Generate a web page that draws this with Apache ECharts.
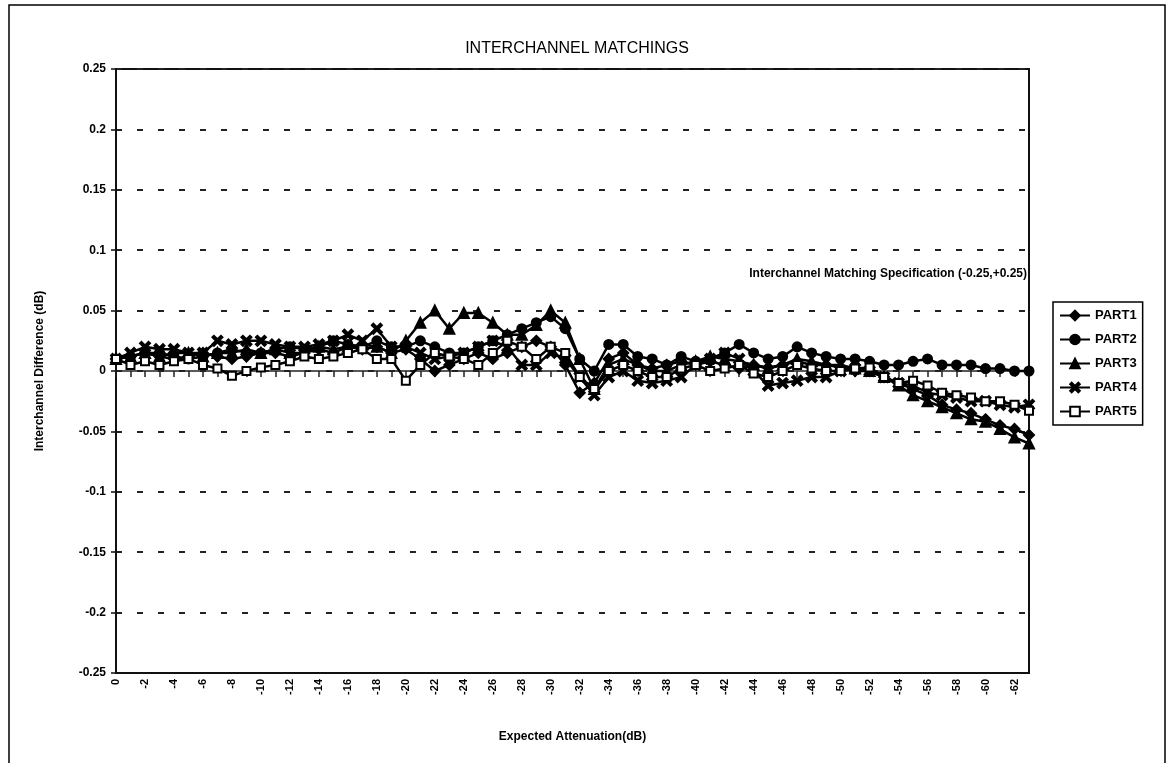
<!DOCTYPE html>
<html lang="en">
<head>
    <meta charset="UTF-8">
    <title>Interchannel Matchings</title>
    <script src="https://cdn.jsdelivr.net/npm/echarts@6/dist/echarts.min.js"></script>
    <style>
        html, body { margin: 0; padding: 0; background: #fff; }
    </style>
</head>
<body>

<div id="main" style="width:1171px; height:763px;"></div>

<script type="text/javascript">
    // expected attenuation, 0 .. -63 dB
    var attenuation = [];
    for (var k = 0; k <= 63; k++) {
        attenuation.push(k === 0 ? '0' : String(-k));
    }

    var part1 = [0.01, 0.012, 0.015, 0.012, 0.01, 0.012, 0.015, 0.012, 0.01, 0.012,
        0.015, 0.015, 0.012, 0.015, 0.018, 0.015, 0.02, 0.018, 0.02, 0.015,
        0.018, 0.01, 0, 0.005, 0.01, 0.015, 0.01, 0.015, 0.02, 0.025,
        0.02, 0.005, -0.018, -0.01, 0.01, 0.015, 0.005, 0.002, 0.005, 0.008,
        0.005, 0.008, 0.005, 0.002, 0.005, 0.003, 0.005, 0.008, 0.005, 0.005,
        0.003, 0, 0, -0.005, -0.01, -0.015, -0.02, -0.028, -0.032, -0.035,
        -0.04, -0.045, -0.048, -0.053];

    var part2 = [0.01, 0.012, 0.015, 0.015, 0.012, 0.01, 0.012, 0.015, 0.018, 0.015,
        0.015, 0.018, 0.02, 0.018, 0.02, 0.025, 0.022, 0.02, 0.025, 0.02,
        0.02, 0.025, 0.02, 0.015, 0.015, 0.02, 0.025, 0.03, 0.035, 0.04,
        0.045, 0.035, 0.01, 0, 0.022, 0.022, 0.012, 0.01, 0.005, 0.012,
        0.008, 0.01, 0.015, 0.022, 0.015, 0.01, 0.012, 0.02, 0.015, 0.012,
        0.01, 0.01, 0.008, 0.005, 0.005, 0.008, 0.01, 0.005, 0.005, 0.005,
        0.002, 0.002, 0, 0];

    var part3 = [0.01, 0.012, 0.015, 0.012, 0.015, 0.015, 0.012, 0.015, 0.015, 0.018,
        0.015, 0.018, 0.015, 0.015, 0.02, 0.018, 0.02, 0.022, 0.02, 0.015,
        0.025, 0.04, 0.05, 0.035, 0.048, 0.048, 0.04, 0.03, 0.03, 0.038,
        0.05, 0.04, 0.01, -0.015, 0.005, 0.01, 0.005, 0, 0, 0.005,
        0.008, 0.012, 0.01, 0.008, 0.005, 0.002, 0.005, 0.01, 0.008, 0.005,
        0.005, 0.002, 0, -0.005, -0.012, -0.02, -0.025, -0.03, -0.035, -0.04,
        -0.042, -0.048, -0.055, -0.06];

    var part4 = [0.01, 0.015, 0.02, 0.018, 0.018, 0.015, 0.015, 0.025, 0.022, 0.025,
        0.025, 0.022, 0.02, 0.02, 0.022, 0.025, 0.03, 0.025, 0.035, 0.02,
        0.02, 0.015, 0.01, 0.012, 0.015, 0.02, 0.025, 0.02, 0.005, 0.005,
        0.015, 0.01, -0.005, -0.02, -0.005, 0, -0.008, -0.01, -0.008, -0.005,
        0.005, 0.01, 0.015, 0.01, 0, -0.012, -0.01, -0.008, -0.005, -0.005,
        0, 0.002, 0, -0.005, -0.01, -0.012, -0.018, -0.02, -0.022, -0.025,
        -0.025, -0.028, -0.03, -0.028];

    var part5 = [0.01, 0.005, 0.008, 0.005, 0.008, 0.01, 0.005, 0.002, -0.004, 0,
        0.003, 0.005, 0.008, 0.012, 0.01, 0.012, 0.015, 0.018, 0.01, 0.01,
        -0.008, 0.005, 0.015, 0.012, 0.01, 0.005, 0.015, 0.025, 0.02, 0.01,
        0.02, 0.015, -0.005, -0.015, 0, 0.005, 0, -0.005, -0.005, 0.002,
        0.005, 0, 0.002, 0.005, -0.002, -0.005, 0, 0.005, 0.002, 0,
        0, 0.002, 0.003, -0.005, -0.01, -0.008, -0.012, -0.018, -0.02, -0.022,
        -0.025, -0.025, -0.028, -0.033];

    var partNames = ['PART1', 'PART2', 'PART3', 'PART4', 'PART5'];
    var partData = [part1, part2, part3, part4, part5];
    var partSymbols = [
        'diamond',
        'circle',
        'triangle',
        'path://M0,1.5L1.5,0L5,3.5L8.5,0L10,1.5L6.5,5L10,8.5L8.5,10L5,6.5L1.5,10L0,8.5L3.5,5Z',
        'emptyRect'
    ];
    var partSizes = [10, 9, 10, 10, 8];

    var font = 'Liberation Sans, Arial, sans-serif';

    var series = partNames.map(function (name, idx) {
        return {
            name: name,
            type: 'line',
            xAxisIndex: 0,
            data: partData[idx],
            symbol: partSymbols[idx],
            symbolSize: partSizes[idx],
            showAllSymbol: true,
            lineStyle: { color: '#000', width: 2.5 },
            itemStyle: { color: '#000', borderColor: '#000', borderWidth: 2 }
        };
    });

    var chart = echarts.init(document.getElementById('main'));
    chart.setOption({
        animation: false,
        backgroundColor: '#fff',
        title: {
            text: 'INTERCHANNEL MATCHINGS',
            left: 572,
            top: 36,
            textAlign: 'center',
            textStyle: { fontFamily: font, fontSize: 16, fontWeight: 'normal', color: '#000' }
        },
        legend: {
            orient: 'vertical',
            left: 1053,
            top: 302,
            padding: [7, 6, 7, 6],
            itemGap: 11,
            itemWidth: 30,
            itemHeight: 12,
            borderColor: '#000',
            borderWidth: 1.5,
            data: partNames,
            textStyle: { fontFamily: font, fontSize: 13, fontWeight: 'bold', color: '#000' }
        },
        grid: {
            left: 116,
            right: 142,
            top: 69,
            bottom: 90,
            show: true,
            borderColor: '#111',
            borderWidth: 2,
            backgroundColor: 'transparent'
        },
        xAxis: [{
            type: 'category',
            data: attenuation,
            boundaryGap: false,
            position: 'bottom',
            name: 'Expected Attenuation(dB)',
            nameLocation: 'middle',
            nameGap: 58,
            nameTextStyle: { fontFamily: font, fontSize: 12, fontWeight: 'bold', color: '#000' },
            axisLine: { onZero: false, lineStyle: { color: '#111', width: 2 } },
            axisTick: { show: false },
            axisLabel: {
                interval: 1,
                rotate: 90,
                margin: 6,
                fontFamily: font,
                fontSize: 11,
                fontWeight: 'bold',
                color: '#000'
            },
            splitLine: { show: false }
        }, {
            // zero crossing line with category ticks
            type: 'category',
            data: attenuation,
            boundaryGap: false,
            position: 'bottom',
            axisLine: { onZero: true, lineStyle: { color: '#222', width: 1.5 } },
            axisTick: { show: true, interval: 0, length: 6, lineStyle: { color: '#222', width: 1.5 } },
            axisLabel: { show: false },
            splitLine: { show: false }
        }],
        yAxis: {
            type: 'value',
            min: -0.25,
            max: 0.25,
            interval: 0.05,
            name: 'Interchannel Difference (dB)',
            nameLocation: 'middle',
            nameGap: 70,
            nameTextStyle: { fontFamily: font, fontSize: 12, fontWeight: 'bold', color: '#000' },
            axisLine: { show: true, lineStyle: { color: '#111', width: 2 } },
            axisTick: { show: true, length: 5, lineStyle: { color: '#111', width: 1.5 } },
            axisLabel: {
                margin: 10,
                fontFamily: font,
                fontSize: 12,
                fontWeight: 'bold',
                color: '#000'
            },
            splitLine: {
                show: true,
                lineStyle: { color: '#222', width: 2, type: [6, 15] }
            }
        },
        graphic: [{
            type: 'rect',
            silent: true,
            shape: { x: 9, y: 5, width: 1156, height: 800 },
            style: { fill: 'none', stroke: '#000', lineWidth: 1.5 }
        }, {
            type: 'text',
            silent: true,
            right: 1171 - 1027,
            top: 268,
            style: {
                text: 'Interchannel Matching Specification (-0.25,+0.25)',
                font: 'bold 12px ' + font,
                fill: '#000'
            }
        }],
        series: series
    });
</script>
</body>
</html>
